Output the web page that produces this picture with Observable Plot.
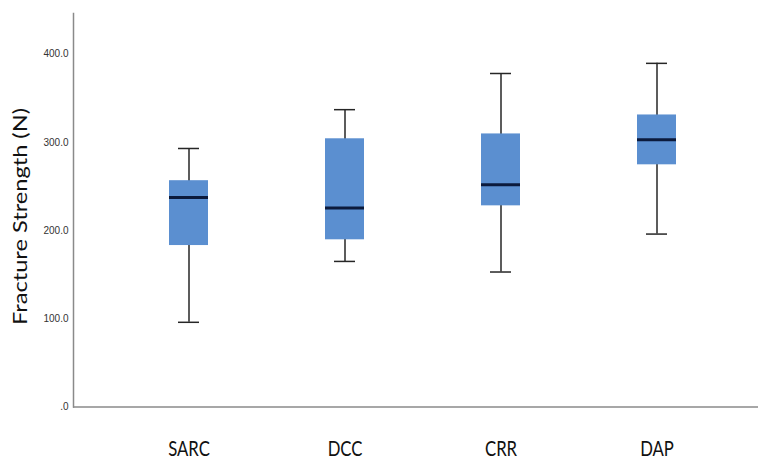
<!DOCTYPE html>
<html>
<head>
<meta charset="utf-8">
<script src="https://cdn.jsdelivr.net/npm/d3@7"></script>
<script src="https://cdn.jsdelivr.net/npm/@observablehq/plot@0.6"></script>
<style>
  html, body { margin: 0; padding: 0; background: #fff; }
</style>
</head>
<body>
<script>
// Data (Fracture Strength, N)
const categories   = ["SARC", "DCC", "CRR", "DAP"];
const whiskerLow   = [96, 165, 153, 196];
const quartile1    = [183, 189.5, 228, 274.5];
const medians      = [237.5, 225.5, 252, 303];
const quartile3    = [256.5, 304, 309.5, 331];
const whiskerHigh  = [293, 337, 378, 389.5];
const yTicks       = [0, 100, 200, 300, 400];
const yLabel       = "Fracture Strength (N)";

const data = categories.map((c, i) => ({
  cat: c, lo: whiskerLow[i], q1: quartile1[i], med: medians[i], q3: quartile3[i], hi: whiskerHigh[i]
}));

const axisColor = "#8a8a8a";
const whiskerColor = "#262626";

const svg = Plot.plot({
  width: 758,
  height: 461,
  marginLeft: 73,
  marginRight: 0,
  marginTop: 13,
  marginBottom: 54.5,
  style: { background: "#fff", overflow: "visible" },
  x: { type: "band", domain: categories, range: [167.5, 676.6], paddingInner: 0.751, paddingOuter: 0, label: null },
  y: { domain: [0, 446], label: null },
  marks: [
    Plot.ruleY([0], { stroke: axisColor, strokeWidth: 1.5 }),
    Plot.frame({ anchor: "left", stroke: axisColor, strokeWidth: 1.5 }),
    Plot.ruleX(data, { x: "cat", y1: "lo", y2: "hi", stroke: whiskerColor, strokeWidth: 1.5 }),
    Plot.barY(data, { x: "cat", y1: "q1", y2: "q3", fill: "#5b8fd0" }),
    Plot.tickY(data, { x: "cat", y: "med", stroke: "#0b1a3c", strokeWidth: 3 }),
    Plot.tickY(data, { x: "cat", y: "lo", stroke: whiskerColor, strokeWidth: 1.5, inset: 9 }),
    Plot.tickY(data, { x: "cat", y: "hi", stroke: whiskerColor, strokeWidth: 1.5, inset: 9 }),
    Plot.axisY({
      ticks: yTicks, tickSize: 0, tickPadding: 5, label: null,
      tickFormat: d => d === 0 ? ".0" : d.toFixed(1),
      fontSize: 10, fontFamily: "Liberation Sans, Arial, sans-serif", color: "#333"
    }),
    Plot.axisX({
      tickSize: 0, tickPadding: 33, label: null,
      fontSize: 22, fontFamily: "Lato, 'Open Sans', sans-serif", color: "#111"
    })
  ]
});

document.body.append(svg);

// narrow the category labels (the reference uses a condensed-looking face)
svg.querySelectorAll('[aria-label="x-axis tick label"] text').forEach(t => {
  const b = t.getBBox();
  const cx = b.x + b.width / 2;
  const s = 0.76;
  const prev = t.getAttribute("transform") || "";
  t.setAttribute("transform", `${prev} translate(${cx},0) scale(${s},1) translate(${-cx},0)`);
});

// rotated y-axis title
const title = d3.select(svg).append("text")
  .attr("text-anchor", "middle")
  .attr("font-family", "Lato, 'Open Sans', sans-serif")
  .attr("font-size", 23)
  .attr("fill", "#111")
  .text(yLabel);
const tl = title.node().getComputedTextLength();
const fs = 23 * 217 / tl;
title.attr("font-size", fs)
  .attr("transform", `translate(27,216.5) rotate(-90) scale(1,0.82)`);
</script>
</body>
</html>
